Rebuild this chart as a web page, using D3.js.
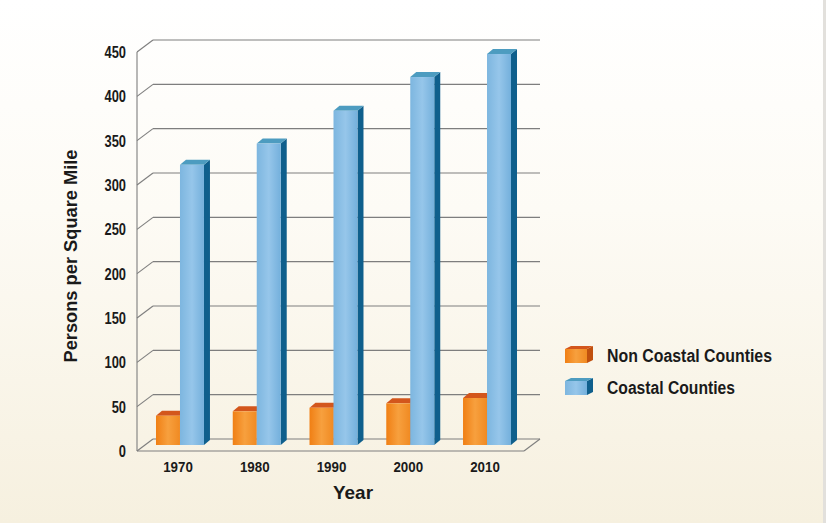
<!DOCTYPE html>
<html><head><meta charset="utf-8">
<script src="https://cdn.jsdelivr.net/npm/d3@7/dist/d3.min.js"></script>
<style>body{margin:0;} svg{display:block;} text{font-family:"Liberation Sans",Arial,sans-serif;font-weight:bold;fill:#1a1a1a;}</style>
</head><body><svg id="c" width="826" height="523"></svg>
<script>
const years = ["1970","1980","1990","2000","2010"];
const nonCoastal = [33, 38, 42, 47, 53];
const coastal = [316, 340, 377, 415, 441];
const seriesNames = ["Non Coastal Counties","Coastal Counties"];
const yTicks = [0,50,100,150,200,250,300,350,400,450];

const svg = d3.select("#c");
const defs = svg.append("defs");
const bg = defs.append("linearGradient").attr("id","bg").attr("x1",0).attr("y1",0).attr("x2",0).attr("y2",1);
bg.append("stop").attr("offset","0%").attr("stop-color","#ffffff");
bg.append("stop").attr("offset","40%").attr("stop-color","#fdfbf5");
bg.append("stop").attr("offset","100%").attr("stop-color","#f6f0df");
svg.append("rect").attr("width",826).attr("height",523).attr("fill","url(#bg)");
svg.append("rect").attr("x",823).attr("width",3).attr("height",523).attr("fill","#e2e0dc");

function hgrad(id, stops){
  const g = defs.append("linearGradient").attr("id",id).attr("x1",0).attr("y1",0).attr("x2",1).attr("y2",0);
  stops.forEach(s=>g.append("stop").attr("offset",s[0]).attr("stop-color",s[1]));
}
hgrad("gOr", [["0%","#f07f14"],["50%","#f7a03e"],["100%","#f08a22"]]);
hgrad("gBl", [["0%","#7db6df"],["50%","#96c6ea"],["100%","#74b0dc"]]);

function squeeze(sel, ratio){
  sel.each(function(){
    const n = this, w = n.getComputedTextLength();
    d3.select(n).attr("textLength", w*ratio).attr("lengthAdjust","spacingAndGlyphs");
  });
}

const depthX = 16, depthY = 12;
const backLeft = 153, backRight = 540;
const y = d3.scaleLinear().domain([0,450]).range([439,40]);
const x0 = d3.scaleBand().domain(years).range([141.6, 525.4]).paddingInner(0.375).paddingOuter(0.1875);
const x1 = d3.scaleBand().domain(seriesNames).range([0, x0.bandwidth()]);
const barShiftY = 6;
const grid = svg.append("g").attr("stroke","#7e7e7e").attr("stroke-width",1.1).attr("fill","none");
yTicks.forEach(t=>{
  grid.append("line").attr("x1",backLeft).attr("x2",backRight).attr("y1",y(t)).attr("y2",y(t));
  grid.append("line").attr("x1",backLeft-depthX).attr("y1",y(t)+depthY).attr("x2",backLeft).attr("y2",y(t));
});
grid.append("line").attr("x1",backLeft-depthX).attr("x2",backLeft-depthX).attr("y1",y(450)+depthY).attr("y2",y(0)+depthY);
grid.append("line").attr("x1",backLeft-depthX).attr("x2",backRight-depthX).attr("y1",y(0)+depthY).attr("y2",y(0)+depthY);
grid.append("line").attr("x1",backRight-depthX).attr("y1",y(0)+depthY).attr("x2",backRight).attr("y2",y(0));

svg.append("g").selectAll("text").data(yTicks).join("text")
  .attr("x",126).attr("y",d=>y(d)+depthY+6).attr("text-anchor","end").attr("font-size",16.5).text(d=>d)
  .call(squeeze, 0.78);

const bdx = 6, bdy = 5;
const colors = {
  "Non Coastal Counties": {front:"url(#gOr)", top:"#d3561c", side:"#c0500e"},
  "Coastal Counties": {front:"url(#gBl)", top:"#4d9cc0", side:"#0f5f8c"}
};
const data = [];
years.forEach((yr,i)=>{
  data.push({year:yr, s:seriesNames[0], v:nonCoastal[i]});
  data.push({year:yr, s:seriesNames[1], v:coastal[i]});
});
const bars = svg.append("g");
data.forEach(d=>{
  const xl = x0(d.year)+x1(d.s), w = x1.bandwidth();
  const yt = y(d.v)+barShiftY, yb = y(0)+barShiftY;
  const c = colors[d.s];
  const g = bars.append("g");
  g.append("path").attr("d",`M${xl+w},${yt} L${xl+w+bdx},${yt-bdy} L${xl+w+bdx},${yb-bdy} L${xl+w},${yb} Z`).attr("fill",c.side);
  g.append("path").attr("d",`M${xl},${yt} L${xl+bdx},${yt-bdy} L${xl+w+bdx},${yt-bdy} L${xl+w},${yt} Z`).attr("fill",c.top);
  g.append("rect").attr("x",xl).attr("y",yt).attr("width",w).attr("height",yb-yt).attr("fill",c.front);
});

svg.append("g").selectAll("text").data(years).join("text")
  .attr("x",d=>x0(d)+x0.bandwidth()/2-2).attr("y",472).attr("text-anchor","middle").attr("font-size",15.5).text(d=>d)
  .call(squeeze, 0.86);

svg.append("text").attr("x",353).attr("y",499).attr("text-anchor","middle").attr("font-size",19).text("Year")
  .attr("textLength",40).attr("lengthAdjust","spacingAndGlyphs");
svg.append("text").attr("transform","translate(77,256) rotate(-90)").attr("text-anchor","middle").attr("font-size",18).text("Persons per Square Mile")
  .attr("textLength",213).attr("lengthAdjust","spacingAndGlyphs");

const legendLens = [165, 128];
const leg = svg.append("g");
seriesNames.forEach((s,i)=>{
  const c = colors[s];
  const ly = 346 + i*32;
  const lx = 565, w = 22, h = 14;
  leg.append("path").attr("d",`M${lx+w},${ly+3} L${lx+w+6},${ly} L${lx+w+6},${ly+h} L${lx+w},${ly+h+3} Z`).attr("fill",c.side);
  leg.append("path").attr("d",`M${lx},${ly+3} L${lx+6},${ly} L${lx+w+6},${ly} L${lx+w},${ly+3} Z`).attr("fill",c.top);
  leg.append("rect").attr("x",lx).attr("y",ly+3).attr("width",w).attr("height",h).attr("fill",c.front);
  leg.append("text").attr("x",607).attr("y",ly+16).attr("font-size",18).text(s)
    .attr("textLength",legendLens[i]).attr("lengthAdjust","spacingAndGlyphs");
});
</script></body></html>
